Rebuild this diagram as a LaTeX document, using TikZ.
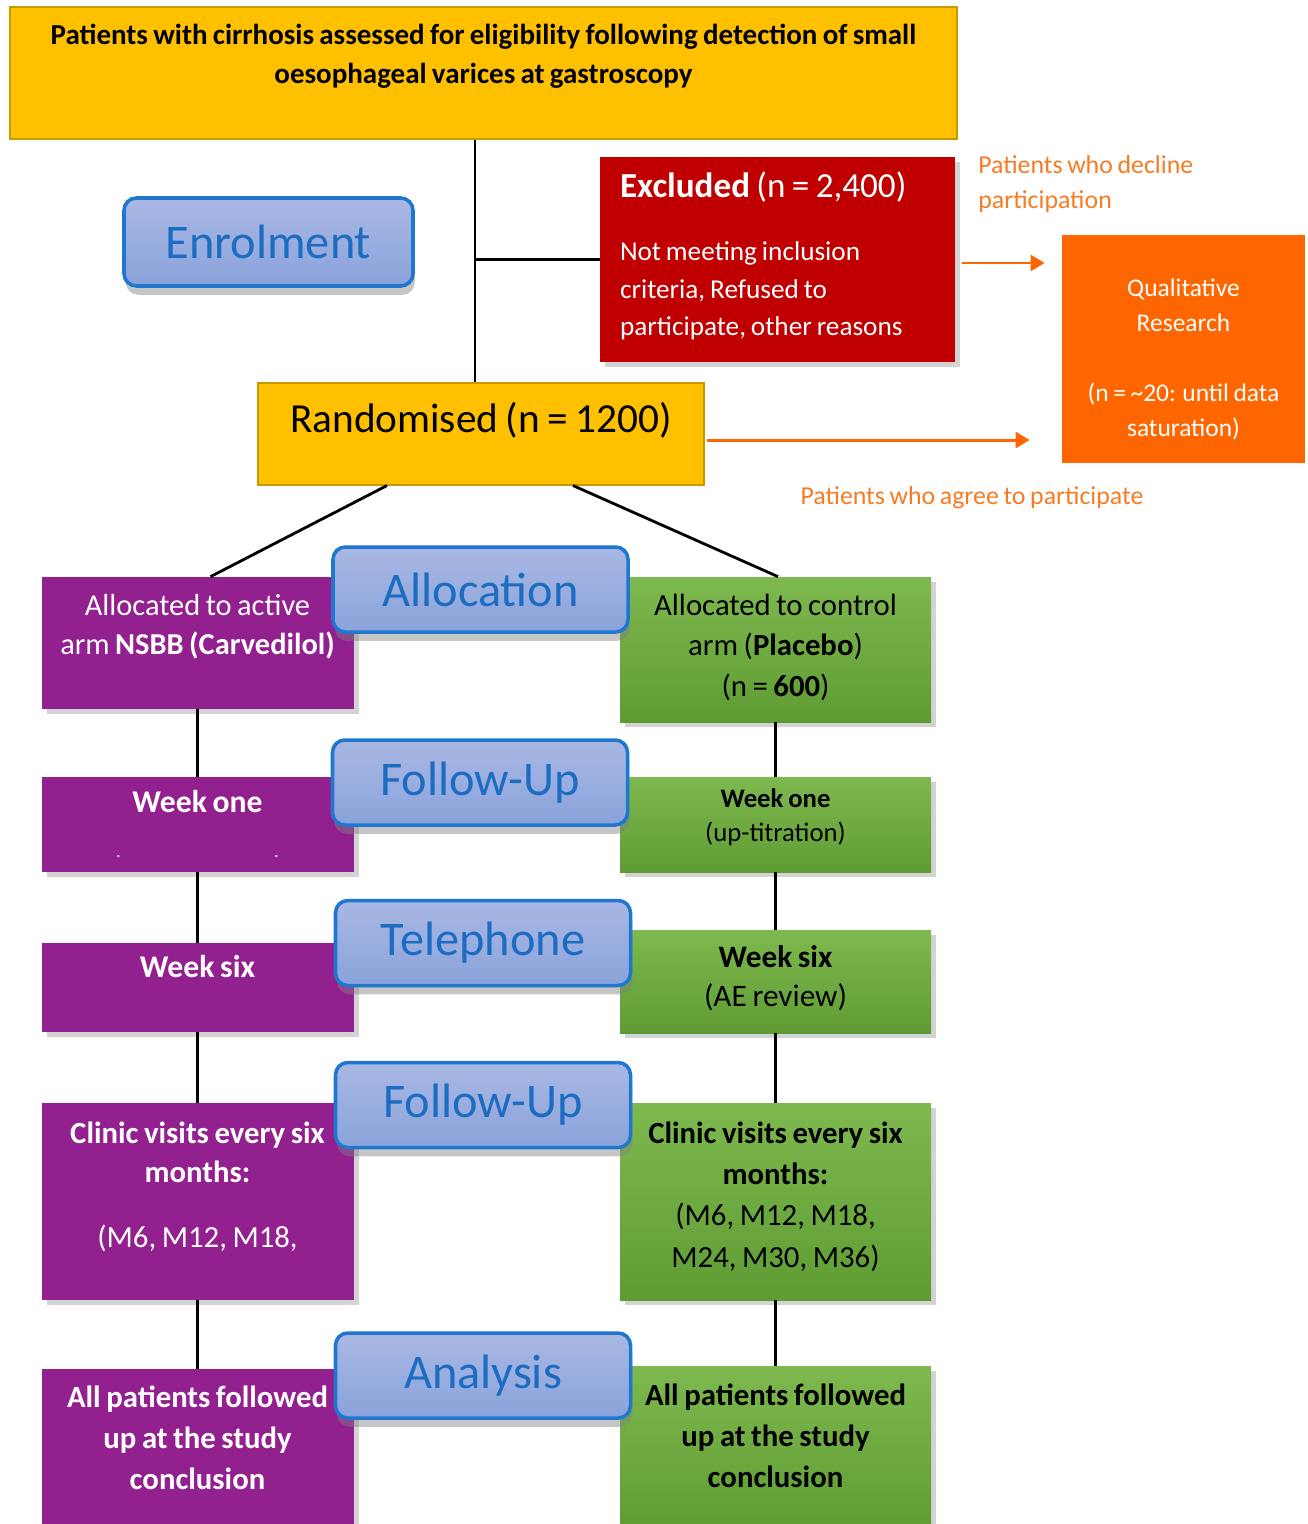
\documentclass[tikz,border=0pt]{standalone}
\usepackage{fontspec}
\setmainfont{Carlito}[WordSpace=0.8]
\usetikzlibrary{arrows.meta, shadows, positioning}
\definecolor{gold}{HTML}{FFC000}
\definecolor{goldline}{HTML}{C49A00}
\definecolor{exred}{HTML}{C00000}
\definecolor{qualorange}{HTML}{FF6600}
\definecolor{noteorange}{HTML}{F77B22}
\definecolor{activepurple}{HTML}{93208F}
\definecolor{ctlgreentop}{HTML}{7EB94F}
\definecolor{ctlgreenbot}{HTML}{5E9C33}
\definecolor{stagetop}{HTML}{A9B8E3}
\definecolor{stagebot}{HTML}{8AA3DB}
\definecolor{stageline}{HTML}{1F77CF}
\definecolor{stagetext}{HTML}{1C6DC1}
\tikzset{
link/.style={line width=1.6pt}, % plain black connectors
arr/.style={line width=1.7pt, draw=qualorange, -{Triangle[length=8pt,width=9pt]}}, % orange arrows to the qualitative box
flowbox/.style={rectangle, inner xsep=0pt, inner ysep=0pt, align=flush center}, % text height/depth give the box height
boxshadow/.style={drop shadow={opacity=0.35, shadow xshift=3pt, shadow yshift=-3pt}},
goldbox/.style={flowbox, fill=gold, draw=goldline, line width=0.6pt},
activebox/.style={flowbox, fill=activepurple, text=white, boxshadow, text width=6.24cm},
controlbox/.style={flowbox, top color=ctlgreentop, bottom color=ctlgreenbot, text=black, boxshadow, text width=6.22cm},
stagebox/.style={rectangle, rounded corners=7pt, top color=stagetop, bottom color=stagebot, draw=stageline, line width=2pt,
  text=stagetext, font=\fontsize{27.5}{32}\selectfont, minimum width=5.9cm, minimum height=1.7cm,
  drop shadow={opacity=0.45, shadow xshift=1pt, shadow yshift=-5pt}}, % blue phase labels
notelabel/.style={text=noteorange, align=left, inner sep=0pt, font=\fontsize{14.7}{19.8}\selectfont}, % orange side notes
}

\begin{document}
\begin{tikzpicture}
    \useasboundingbox (0,0) rectangle (26.14,-30.48);
    % enrolment
    \node[goldbox, text width=18.94cm, text height=0.74cm, text depth=1.90cm, font=\bfseries\fontsize{16.5}{22.7}\selectfont] (screen) at (9.67,-1.46)
      {Patients with cirrhosis assessed for eligibility following detection of small\\oesophageal varices at gastroscopy};
    \node[flowbox, fill=exred, text=white, boxshadow, text width=6.3cm, inner xsep=0.4cm, align=flush left, text height=0.8cm, text depth=3.3cm, font=\fontsize{15.5}{21.3}\selectfont] (excluded) at (15.55,-5.19)
      {{\fontsize{20}{21.3}\selectfont\textbf{Excluded} (n = 2,400)}\\[15pt]Not meeting inclusion\\criteria, Refused to\\participate, other reasons};
    \node[flowbox, fill=qualorange, text=white, text width=4.86cm, text height=1.22cm, text depth=3.34cm, font=\fontsize{14.5}{20}\selectfont] (qual) at (23.67,-6.98)
      {Qualitative\\Research\\[20pt](n = \textasciitilde20: until data\\saturation)};
    \node[goldbox, text width=8.92cm, text height=0.98cm, text depth=1.06cm, font=\fontsize{23.5}{26}\selectfont] (rand) at (9.62,-8.68) {Randomised (n = 1200)};
    \node[notelabel, anchor=base west] (declined) at (19.56,-4.16) {Patients who decline\\participation};
    \node[notelabel, anchor=base] (agreed) at (19.44,-10.08) {Patients who agree to participate};

    % active arm
    \node[activebox, text height=0.76cm, text depth=1.88cm, font=\fontsize{17.3}{22.7}\selectfont] (actalloc) at (3.95,-12.86)
      {Allocated to active\\arm \textbf{NSBB (Carvedilol)}};
    \node[activebox, text height=0.70cm, text depth=1.20cm, font=\bfseries\fontsize{18}{22}\selectfont] (actweekone) at (3.95,-16.49)
      {Week one\\[4pt]{\fontsize{8}{8}\selectfont.\hspace{3.08cm}.}};
    \node[activebox, text height=0.68cm, text depth=1.10cm, font=\bfseries\fontsize{18}{22}\selectfont] (actweeksix) at (3.95,-19.75) {Week six};
    \node[activebox, text height=0.80cm, text depth=3.14cm, font=\fontsize{17.5}{22.7}\selectfont] (actclinic) at (3.95,-24.03)
      {\textbf{Clinic visits every six}\\\textbf{months:}\\[14pt](M6, M12, M18,};
    \node[activebox, text height=0.76cm, text depth=2.46cm, font=\bfseries\fontsize{17.5}{23.5}\selectfont] (actend) at (3.95,-28.99)
      {All patients followed\\up at the study\\conclusion};

    % control arm
    \node[controlbox, text height=0.76cm, text depth=2.14cm, font=\fontsize{17.5}{23.2}\selectfont] (ctlalloc) at (15.51,-12.99)
      {Allocated to control\\arm (\textbf{Placebo})\\(n = \textbf{600})};
    \node[controlbox, text height=0.60cm, text depth=1.30cm, font=\fontsize{15.2}{19.8}\selectfont] (ctlweekone) at (15.51,-16.49)
      {\textbf{Week one}\\(up-titration)};
    \node[controlbox, text height=0.74cm, text depth=1.32cm, font=\fontsize{17.8}{22.7}\selectfont] (ctlweeksix) at (15.51,-19.63)
      {\textbf{Week six}\\(AE review)};
    \node[controlbox, text height=0.80cm, text depth=3.14cm, font=\fontsize{17.5}{23.6}\selectfont] (ctlclinic) at (15.51,-24.03)
      {\textbf{Clinic visits every six}\\\textbf{months:}\\(M6, M12, M18,\\M24, M30, M36)};
    \node[controlbox, text height=0.78cm, text depth=2.50cm, font=\bfseries\fontsize{17.5}{23.5}\selectfont] (ctlend) at (15.51,-28.96)
      {All patients followed\\up at the study\\conclusion};

    % connectors
    \coordinate (spine) at ([xshift=-0.17cm]screen.south);
    \draw[link] (spine) -- (spine |- rand.north);
    \draw[link] (spine |- excluded.west) -- (excluded.west);
    \draw[link] ([xshift=-1.88cm]rand.south) -- ([xshift=0.26cm]actalloc.north);
    \draw[link] ([xshift=1.84cm]rand.south) -- ([xshift=0.05cm]ctlalloc.north);
    \foreach \a/\b in {actalloc/actweekone, actweekone/actweeksix, actweeksix/actclinic, actclinic/actend,
                       ctlalloc/ctlweekone, ctlweekone/ctlweeksix, ctlweeksix/ctlclinic, ctlclinic/ctlend}
      \draw[link] (\a) -- (\b);
    \draw[arr] ([xshift=0.14cm, yshift=-0.07cm]excluded.east) -- ([xshift=-0.34cm, yshift=-0.07cm]qual.west |- excluded.east);
    \draw[arr] ([xshift=0.04cm, yshift=-0.12cm]rand.east) -- ([xshift=-0.64cm, yshift=-0.12cm]qual.west |- rand.east);

    % phase labels
    \node[stagebox, minimum width=5.78cm, minimum height=1.76cm] (enrol) at (5.37,-4.84) {Enrolment};
    \node[stagebox] (alloc) at (9.61,-11.79) {Allocation};
    \node[stagebox] (followone) at (9.60,-15.65) {Follow-Up};
    \node[stagebox] (phone) at (9.66,-18.86) {Telephone};
    \node[stagebox] (followtwo) at (9.66,-22.10) {Follow-Up};
    \node[stagebox] (analysis) at (9.66,-27.51) {Analysis};
\end{tikzpicture}
\end{document}
